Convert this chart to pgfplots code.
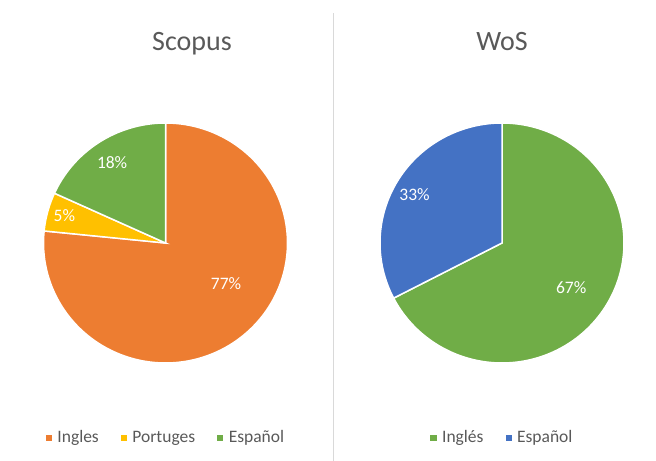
\documentclass[border=0pt]{standalone}
\usepackage{pgfplots}
\pgfplotsset{compat=1.18}
\usepackage{fontspec}
\setmainfont{Carlito}
\definecolor{cOrange}{HTML}{ED7D31}
\definecolor{cYellow}{HTML}{FFC000}
\definecolor{cGreen}{HTML}{70AD47}
\definecolor{cBlue}{HTML}{4472C4}
\definecolor{cText}{HTML}{595959}
\definecolor{cLine}{HTML}{D9D9D9}
% data (percent)
\def\scIng{76.6}\def\scPor{5.2}\def\scEsp{18.2}
\def\wsIng{67.4}\def\wsEsp{32.6}
\pgfmathsetmacro\sA{90-3.6*\scIng}
\pgfmathsetmacro\sB{\sA-3.6*\scPor}
\pgfmathsetmacro\sC{\sB-3.6*\scEsp}
\pgfmathsetmacro\wA{90-3.6*\wsIng}
\pgfmathsetmacro\wB{\wA-3.6*\wsEsp}
\pgfplotsset{
  pie/.style={hide axis, scale only axis, width=244bp, height=240bp,
    xmin=-1,xmax=1,ymin=-1,ymax=1, anchor=center, clip=false,
    legend columns=-1,
    legend style={draw=none, fill=none, at={(0.5,-0.31)}, anchor=center,
      font=\fontsize{17.5bp}{20bp}\selectfont\color{cText},
      /tikz/every odd column/.append style={column sep=5bp},
      /tikz/every even column/.append style={column sep=21bp},
      inner sep=0pt, nodes={inner sep=1bp}},
    legend image code/.code={\fill[#1] (0bp,-2.6bp) rectangle (5.2bp,2.6bp);},
  },
  slice/.style={fill=#1, draw=white, line width=1.5bp, samples=120, domain=0:1, forget plot},
}
\begin{document}
\begin{tikzpicture}
\path[use as bounding box] (0,0) rectangle (656bp,461bp);
\draw[cLine, line width=1bp] (333bp,0) -- (333bp,448bp);
\begin{axis}[pie, at={(165.5bp,218bp)}]
  \addplot[slice=cOrange, domain=\sA:90] ({cos(x)},{sin(x)}) -- (axis cs:0,0) -- cycle;
  \addplot[slice=cYellow, domain=\sB:\sA] ({cos(x)},{sin(x)}) -- (axis cs:0,0) -- cycle;
  \addplot[slice=cGreen, domain=\sC:\sB] ({cos(x)},{sin(x)}) -- (axis cs:0,0) -- cycle;
  \addlegendimage{cOrange}\addlegendentry{Ingles}
  \addlegendimage{cYellow}\addlegendentry{Portuges}
  \addlegendimage{cGreen}\addlegendentry{Español}
  \begin{scope}[every node/.style={text=white, font=\fontsize{17.5bp}{20bp}\selectfont}]
  \node at (axis cs:0.496,-0.342) {77\%};
  \node at (axis cs:-0.4375,0.667) {18\%};
  \node at (axis cs:-0.829,0.225) {5\%};
  \end{scope}
\end{axis}
\begin{axis}[pie, at={(502bp,218bp)}]
  \addplot[slice=cGreen, domain=\wA:90] ({cos(x)},{sin(x)}) -- (axis cs:0,0) -- cycle;
  \addplot[slice=cBlue, domain=\wB:\wA] ({cos(x)},{sin(x)}) -- (axis cs:0,0) -- cycle;
  \addlegendimage{cGreen}\addlegendentry{Inglés}
  \addlegendimage{cBlue}\addlegendentry{Español}
  \begin{scope}[every node/.style={text=white, font=\fontsize{17.5bp}{20bp}\selectfont}]
  \node at (axis cs:-0.717,0.4) {33\%};
  \node at (axis cs:0.567,-0.375) {67\%};
  \end{scope}
\end{axis}
\node[anchor=base, text=cText, font=\fontsize{28bp}{32bp}\selectfont] at (192bp,410bp) {Scopus};
\node[anchor=base, text=cText, font=\fontsize{28bp}{32bp}\selectfont] at (502bp,410bp) {WoS};
\end{tikzpicture}
\end{document}
